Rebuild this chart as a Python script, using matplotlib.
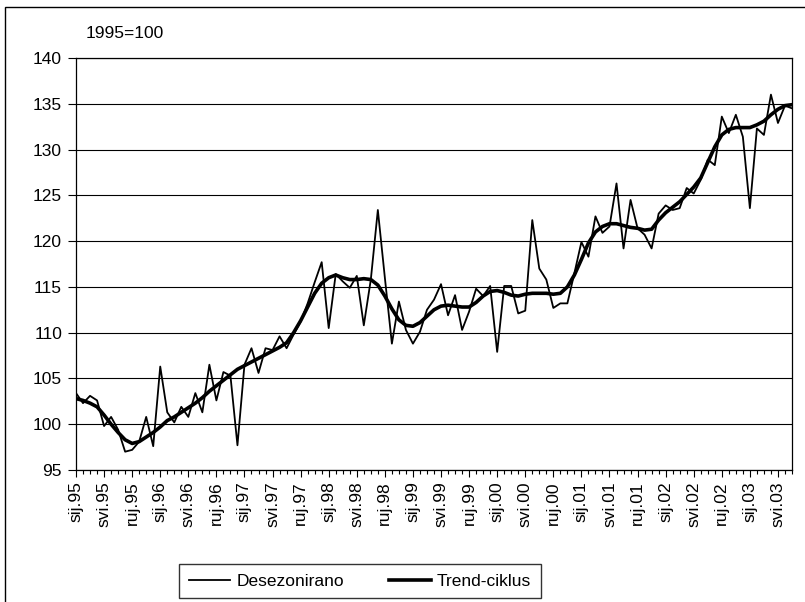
import matplotlib.pyplot as plt
from matplotlib.patches import Rectangle
from matplotlib.ticker import MultipleLocator

plt.rcParams['font.family'] = ['Liberation Sans', 'DejaVu Sans']

# mjesecni podaci, sij.95 - srp.03
months = ["sij", "velj", "ožu", "tra", "svi", "lip", "srp", "kol", "ruj", "lis", "stu", "pro"]
years = ["95", "96", "97", "98", "99", "00", "01", "02", "03"]
categories = [m + "." + y for y in years for m in months][:103]

desezonirano = [
    103.4, 102.3, 103.1, 102.6, 99.8, 100.8, 99.4, 97.0, 97.2, 98.1, 100.8, 97.6,
    106.3, 101.3, 100.2, 101.9, 100.8, 103.4, 101.3, 106.5, 102.6, 105.7, 105.3, 97.7,
    106.5, 108.3, 105.6, 108.3, 108.1, 109.6, 108.3, 109.8, 111.2, 113.2, 115.5, 117.7,
    110.5, 116.4, 115.6, 114.9, 116.2, 110.8, 115.8, 123.4, 116.0, 108.8, 113.4, 110.3,
    108.8, 110.1, 112.5, 113.6, 115.3, 111.9, 114.1, 110.3, 112.3, 114.8, 114.0, 115.1,
    107.9, 115.1, 115.1, 112.1, 112.4, 122.3, 117.0, 115.8, 112.7, 113.2, 113.2, 116.5,
    119.9, 118.3, 122.7, 120.9, 121.6, 126.3, 119.2, 124.5, 121.4, 120.7, 119.2, 123.0,
    123.9, 123.4, 123.6, 125.8, 125.2, 126.7, 128.9, 128.3, 133.6, 131.8, 133.8, 131.4,
    123.6, 132.3, 131.6, 136.0, 132.9, 134.8, 134.5,
]
trend = [
    102.8, 102.6, 102.3, 101.9, 101.0, 100.0, 99.1, 98.3, 97.9, 98.1, 98.6, 99.1,
    99.7, 100.4, 100.8, 101.3, 101.8, 102.3, 102.9, 103.6, 104.2, 104.8, 105.4, 106.0,
    106.4, 106.8, 107.2, 107.6, 108.0, 108.4, 108.9, 110.0, 111.3, 112.8, 114.3, 115.4,
    116.0, 116.3, 116.0, 115.8, 115.8, 115.9, 115.8, 115.2, 114.0, 112.6, 111.4, 110.8,
    110.7, 111.1, 111.8, 112.5, 112.9, 113.0, 112.9, 112.8, 112.8, 113.3, 114.0, 114.5,
    114.6, 114.4, 114.1, 114.0, 114.2, 114.3, 114.3, 114.3, 114.2, 114.3, 115.0, 116.3,
    118.0, 119.8, 121.0, 121.6, 121.9, 121.9, 121.7, 121.5, 121.4, 121.2, 121.3, 122.3,
    123.1, 123.7, 124.3, 125.1, 125.9, 126.9, 128.6, 130.3, 131.6, 132.2, 132.4, 132.4,
    132.4, 132.7, 133.1, 133.8, 134.4, 134.8, 134.9,
]

fig = plt.figure(figsize=(8.05, 6.02), dpi=100)
ax = fig.add_axes([76 / 805, 132 / 602, 716 / 805, 412 / 602])

x = list(range(len(categories)))
ax.plot(x, desezonirano, color='black', linewidth=1.3, label='Desezonirano')
ax.plot(x, trend, color='black', linewidth=2.6, label='Trend-ciklus')

ax.set_xlim(0, len(categories) - 1)
ax.set_ylim(95, 140)
ax.set_yticks(range(95, 141, 5))
ax.yaxis.grid(True, color='black', linewidth=0.8)
ax.set_axisbelow(True)

ax.set_xticks(x[::4])
ax.set_xticklabels(categories[::4], rotation=90, fontsize=12.5)
ax.xaxis.set_minor_locator(MultipleLocator(1))
ax.tick_params(axis='x', which='major', length=5, width=0.8, pad=3)
ax.tick_params(axis='x', which='minor', length=3, width=0.8)
ax.tick_params(axis='y', length=6, width=0.8, labelsize=12.5, pad=4)
for s in ax.spines.values():
    s.set_color('black')
    s.set_linewidth(0.9)

fig.text(86 / 805, 1 - 34 / 602, '1995=100', fontsize=12.5, va='center', ha='left')

fig.legend(loc='center', bbox_to_anchor=(360 / 805, 1 - 581 / 602), ncol=2,
           frameon=True, fancybox=False, edgecolor='black', fontsize=12.5,
           handlelength=2.4, columnspacing=2.6, borderpad=0.55, handletextpad=0.35)

# okvir grafikona
fig.patches.append(Rectangle((5 / 805, -0.1), 1.2, 1.1 - 7 / 602, transform=fig.transFigure,
                             fill=False, edgecolor='black', linewidth=1.0))

plt.savefig("out.png", dpi=100)
